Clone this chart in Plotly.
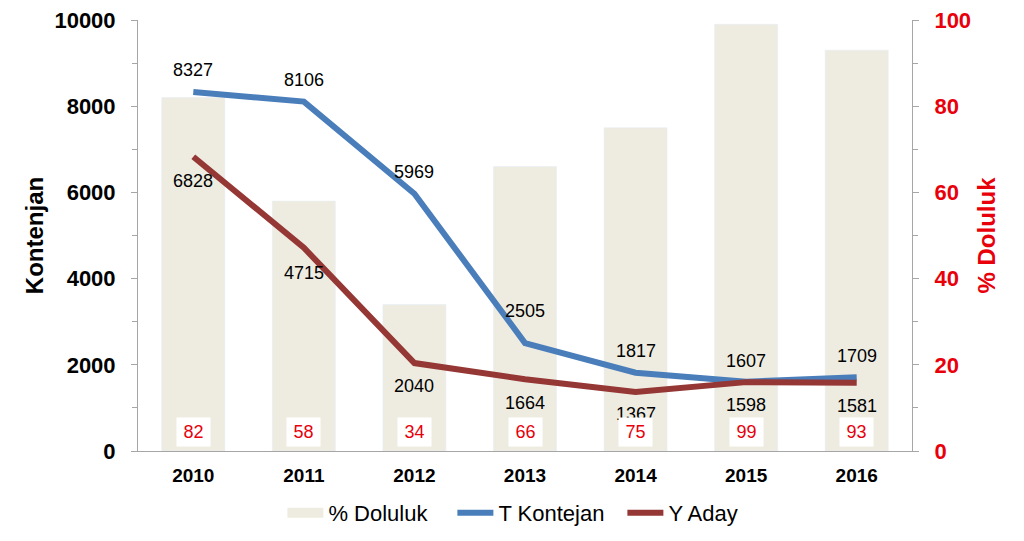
import plotly.graph_objects as go

years = ["2010", "2011", "2012", "2013", "2014", "2015", "2016"]
doluluk = [82, 58, 34, 66, 75, 99, 93]
t_kontejan = [8327, 8106, 5969, 2505, 1817, 1607, 1709]
y_aday = [6828, 4715, 2040, 1664, 1367, 1598, 1581]

FONT = "Liberation Sans, Arial, sans-serif"
BLUE = "#4A7EBB"
DARKRED = "#953735"
BAR = "#EEECE1"
RED = "#E8000B"
AXIS = "#A6A6A6"

# label offsets (pixels) above T Kontejan points / below Y Aday points
t_shift = [22, 22, 22, 32, 22, 21, 21]
y_shift = [24, 25, 23, 24, 22, 23, 23]

fig = go.Figure()
fig.add_trace(go.Bar(x=years, y=doluluk, name="% Doluluk", marker_color=BAR,
                     width=0.57, yaxis="y", hoverinfo="y", showlegend=False))
fig.add_trace(go.Scatter(x=[None], y=[None], name="% Doluluk", mode="lines",
                         line=dict(color=BAR, width=14), yaxis="y", hoverinfo="skip"))
fig.add_trace(go.Scatter(x=years, y=t_kontejan, name="T Kontejan", mode="lines",
                         line=dict(color=BLUE, width=6), yaxis="y2"))
fig.add_trace(go.Scatter(x=years, y=y_aday, name="Y Aday", mode="lines",
                         line=dict(color=DARKRED, width=6), yaxis="y2"))

ann = []
for i, v in enumerate(t_kontejan):
    ann.append(dict(x=i, y=v, xref="x", yref="y2", text=str(v), showarrow=False,
                    yshift=t_shift[i], font=dict(family=FONT, size=18, color="black")))
for i, v in enumerate(y_aday):
    ann.append(dict(x=i, y=v, xref="x", yref="y2", text=str(v), showarrow=False,
                    yshift=-y_shift[i], font=dict(family=FONT, size=18, color="black")))
for i, v in enumerate(doluluk):
    ann.append(dict(x=i, y=4.5, xref="x", yref="y", text=str(v), showarrow=False,
                    bgcolor="white", borderpad=4, width=25, height=20,
                    font=dict(family=FONT, size=18, color=RED)))

fig.update_layout(
    width=1024, height=541,
    margin=dict(l=138, r=112, t=20, b=90, autoexpand=False),
    paper_bgcolor="white", plot_bgcolor="white",
    font=dict(family=FONT, color="black"),
    barmode="overlay",
    showlegend=True,
    legend=dict(orientation="h", x=0.516, xanchor="center", y=-0.144, yanchor="middle",
                font=dict(family=FONT, size=22, color="black"),
                traceorder="normal", itemwidth=36, tracegroupgap=0,
                entrywidth=119, entrywidthmode="pixels"),
    xaxis=dict(type="category", range=[-0.5, 6.5], showline=True, linecolor=AXIS,
               linewidth=1, ticks="", ticklabelstandoff=7,
               tickfont=dict(family=FONT, size=19, color="black", weight="bold"),
               showgrid=False),
    yaxis=dict(side="right", range=[0, 100], dtick=20, showgrid=False, zeroline=False,
               showline=True, linecolor=AXIS, ticks="outside", ticklen=6,
               tickcolor=AXIS, ticklabelstandoff=11,
               minor=dict(dtick=10, ticks="outside", ticklen=5, tickcolor=AXIS),
               tickfont=dict(family=FONT, size=22, color=RED, weight="bold"),
               title=dict(text="% Doluluk", font=dict(family=FONT, size=24, color=RED, weight="bold"),
                          standoff=8)),
    yaxis2=dict(side="left", overlaying="y", range=[0, 10000], dtick=2000, showgrid=False,
                zeroline=False, showline=True, linecolor=AXIS, ticks="outside",
                ticklen=6, tickcolor=AXIS, tickformat="d", ticklabelstandoff=11,
                minor=dict(dtick=1000, ticks="outside", ticklen=5, tickcolor=AXIS),
                tickfont=dict(family=FONT, size=22, color="black", weight="bold"),
                title=dict(text="Kontenjan", font=dict(family=FONT, size=24, color="black", weight="bold"),
                           standoff=4)),
    annotations=ann,
)

fig.write_html("out.html", config={"displayModeBar": False},
               post_script="document.body.style.margin='0';")
